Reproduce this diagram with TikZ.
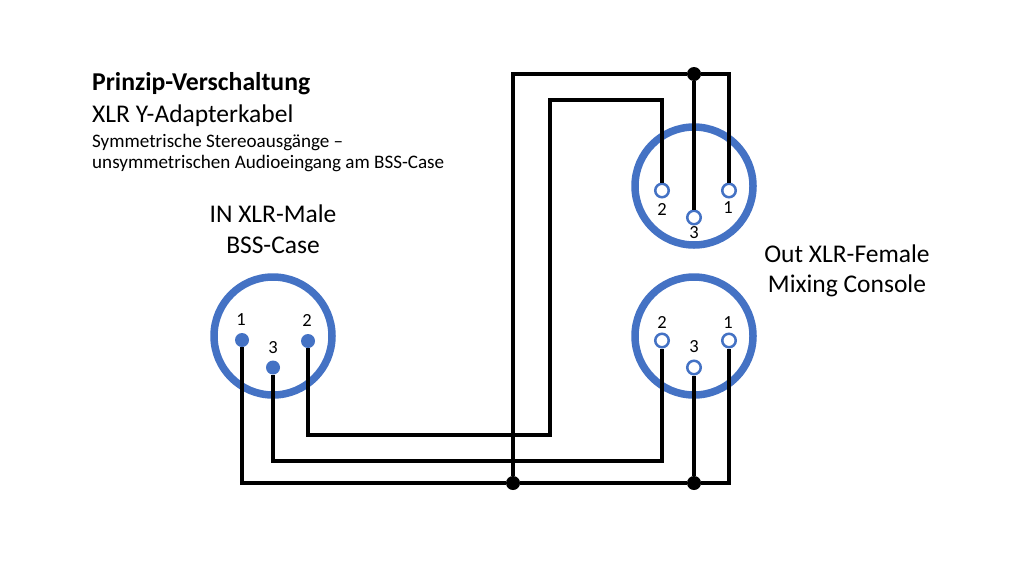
\documentclass[tikz,border=0pt]{standalone}
\usepackage{fontspec}
\setmainfont{Carlito}
\usetikzlibrary{calc}
\definecolor{ringblue}{RGB}{68,114,196}

\begin{document}
\begin{tikzpicture}[x=1pt,y=-1pt]
\tikzset{ring/.style = {shape=circle,draw=ringblue,line width=7.5pt,minimum size=118pt,inner sep=0pt}}
\tikzset{malepin/.style = {shape=circle,fill=ringblue,minimum size=14pt,inner sep=0pt}}
\tikzset{femalepin/.style = {shape=circle,draw=ringblue,fill=white,line width=2.5pt,minimum size=13.5pt,inner sep=0pt}}
\tikzset{wire/.style = {draw=black,line width=4pt}}
\tikzset{joint/.style = {shape=circle,fill=black,minimum size=14pt,inner sep=0pt}}
\tikzset{pinlab/.style = {font=\fontsize{18.5}{18.5}\selectfont,inner sep=0pt}}
\tikzset{caption/.style = {font=\fontsize{25.5}{30.5}\selectfont,align=center,inner sep=0pt}}
\useasboundingbox (0,0) rectangle (1024,576);

\node[ring] (in) at (273,336) {};
\node[ring] (outa) at (694,186) {};
\node[ring] (outb) at (694,336) {};

\node[malepin] (m1) at (242,340) {};
\node[malepin] (m2) at (308,341) {};
\node[malepin] (m3) at (273,367.5) {};
\node[femalepin] (a1) at (729,190.5) {};
\node[femalepin] (a2) at (662,190.5) {};
\node[femalepin] (a3) at (694,217.5) {};
\node[femalepin] (b1) at (729,340.5) {};
\node[femalepin] (b2) at (662,340.5) {};
\node[femalepin] (b3) at (694,367.5) {};

\node[joint] (ja) at (694,74) {};
\node[joint] (jb) at (694,483) {};
\node[joint] (jc) at (513,483) {};
\coordinate (ka) at (513,74);
\coordinate (kb) at (550,435);
\coordinate (kc) at (550,100);
\coordinate (kd) at (662,461);

\draw[wire] (m1) |- (jc);
\draw[wire] (jc) -- (jb);
\draw[wire] (jb) -| (b1);
\draw[wire] (jb) -- (b3);
\draw[wire] (m3) |- (kd) -- (b2);
\draw[wire] (jc) -- (ka) -- (ja);
\draw[wire] (ja) -| (a1);
\draw[wire] (ja) -- (a3);
\draw[wire] (m2) |- (kb) -- (kc) -| (a2);

\node[pinlab] (lm1) at (241,320) {1};
\node[pinlab] (lm2) at (307,320) {2};
\node[pinlab] (lm3) at (273,348) {3};
\node[pinlab] (la1) at (728,207.5) {1};
\node[pinlab] (la2) at (662,209) {2};
\node[pinlab] (la3) at (694,233) {3};
\node[pinlab] (lb1) at (728,322.5) {1};
\node[pinlab] (lb2) at (662,322.5) {2};
\node[pinlab] (lb3) at (694,347) {3};

\node[anchor=west,inner sep=0pt,font=\fontsize{25.7}{30}\selectfont\bfseries] (title) at (92,84) {Prinzip-Verschaltung};
\node[anchor=west,inner sep=0pt,font=\fontsize{25.5}{30}\selectfont] (sub) at (92,116) {XLR Y-Adapterkabel};
\node[anchor=west,inner sep=0pt,font=\fontsize{19.1}{21.5}\selectfont,align=left] (desc) at (92,153) {Symmetrische Stereoausgänge –\\unsymmetrischen Audioeingang am BSS-Case};
\node[caption] (inlab) at (273,229) {IN XLR-Male\\BSS-Case};
\node[caption] (outlab) at (847,271) {Out XLR-Female\\Mixing Console};
\end{tikzpicture}
\end{document}
